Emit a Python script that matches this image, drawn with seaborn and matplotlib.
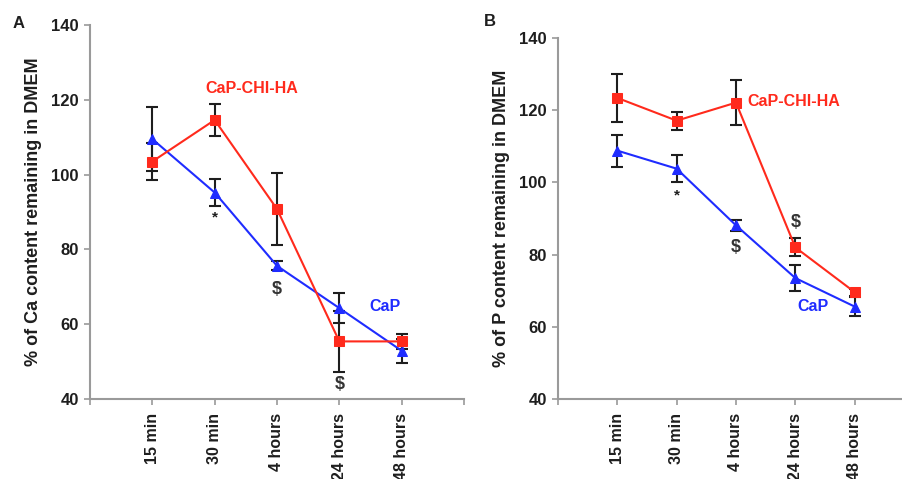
import matplotlib
matplotlib.use('Agg')
import matplotlib.pyplot as plt
import seaborn as sns
import pandas as pd
import numpy as np

'''Data read from the figure'''
times = ['15 min', '30 min', '4 hours', '24 hours', '48 hours']

ca_chi = [103.5, 114.6, 90.8, 55.4, 55.4]
ca_chi_err = [5.0, 4.2, 9.7, 8.1, 2.0]
ca_cap = [109.5, 95.2, 75.6, 64.3, 52.9]
ca_cap_err = [8.5, 3.5, 1.2, 4.0, 3.2]

p_chi = [123.4, 117.1, 122.1, 82.0, 69.6]
p_chi_err = [6.7, 2.5, 6.2, 2.5, 1.0]
p_cap = [108.8, 103.8, 88.1, 73.5, 65.6]
p_cap_err = [4.4, 3.8, 1.5, 3.7, 2.6]

sns.set_theme(style='white')
plt.rcParams['font.family'] = ['Liberation Sans', 'DejaVu Sans']
plt.rcParams['font.weight'] = 'bold'

RED = '#ff2a1c'
BLUE = '#1f2cff'
GREY = '#9a9a9a'
TXT = '#1e1e1e'

fig = plt.figure(figsize=(9.03, 4.79), dpi=100)
ax_a = fig.add_axes([90/903, 80/479, 374/903, 374/479])
ax_b = fig.add_axes([558/903, 80/479, 356/903, 361/479])


def draw_panel(ax, chi, chi_err, cap, cap_err, ylabel):
    df = pd.DataFrame({
        'time': times * 2,
        'value': chi + cap,
        'err': chi_err + cap_err,
        'group': ['CaP-CHI-HA'] * 5 + ['CaP'] * 5,
    })
    df['pos'] = np.tile(np.arange(len(times)), 2)
    for g in ['CaP', 'CaP-CHI-HA']:
        sub = df[df['group'] == g]
        ax.errorbar(sub['pos'], sub['value'], yerr=sub['err'], fmt='none',
                    ecolor=TXT, elinewidth=1.5, capsize=4.5, capthick=1.5, zorder=2)
    sns.lineplot(data=df[df['group'] == 'CaP'], x='pos', y='value', ax=ax,
                 color=BLUE, marker='^', markersize=6.5, markeredgecolor=BLUE,
                 linewidth=1.5, zorder=3)
    sns.lineplot(data=df[df['group'] == 'CaP-CHI-HA'], x='pos', y='value', ax=ax,
                 color=RED, marker='s', markersize=7, markeredgecolor=RED,
                 linewidth=1.5, zorder=4)
    ax.set_xlim(-1, 5)
    ax.set_ylim(40, 140)
    ax.set_xticks(range(-1, 6))
    ax.set_xticklabels([''] + times + [''], rotation=90, fontsize=11.5,
                       fontweight='bold', color=TXT)
    ax.set_yticks(range(40, 141, 20))
    ax.set_yticklabels([str(v) for v in range(40, 141, 20)], fontsize=12,
                       fontweight='bold', color=TXT)
    ax.set_xlabel('')
    ax.set_ylabel(ylabel, fontsize=13, fontweight='bold', color=TXT, labelpad=7)
    sns.despine(ax=ax)
    for s in ['left', 'bottom']:
        ax.spines[s].set_color(GREY)
        ax.spines[s].set_linewidth(1.5)
    ax.tick_params(axis='both', colors=GREY, length=4, width=1.2,
                   direction='out', bottom=True, left=True, pad=4)
    ax.tick_params(axis='x', pad=6)
    for lab in ax.get_xticklabels() + ax.get_yticklabels():
        lab.set_color(TXT)
    ax.grid(False)


draw_panel(ax_a, ca_chi, ca_chi_err, ca_cap, ca_cap_err,
           '% of Ca content remaining in DMEM')
draw_panel(ax_b, p_chi, p_chi_err, p_cap, p_cap_err,
           '% of P content remaining in DMEM')

# annotations, panel A
ax_a.text(1.6, 123, 'CaP-CHI-HA', color=RED, fontsize=11.5, fontweight='bold',
          ha='center', va='center')
ax_a.text(3.73, 64.6, 'CaP', color=BLUE, fontsize=11.5, fontweight='bold',
          ha='center', va='center')
ax_a.text(1, 88.5, '*', color=TXT, fontsize=11, ha='center', va='center')
ax_a.text(2, 69.2, '$', color='#333333', fontsize=13, ha='center', va='center')
ax_a.text(3, 43.8, '$', color='#333333', fontsize=13, ha='center', va='center')

# annotations, panel B
ax_b.text(2.2, 122.3, 'CaP-CHI-HA', color=RED, fontsize=11.5, fontweight='bold',
          ha='left', va='center')
ax_b.text(3.3, 65.6, 'CaP', color=BLUE, fontsize=11.5, fontweight='bold',
          ha='center', va='center')
ax_b.text(1, 96.4, '*', color=TXT, fontsize=11, ha='center', va='center')
ax_b.text(2, 82.1, '$', color='#333333', fontsize=13, ha='center', va='center')
ax_b.text(3, 88.9, '$', color='#333333', fontsize=13, ha='center', va='center')

fig.text(19/903, 1 - 23/479, 'A', fontsize=12, fontweight='bold', color=TXT,
         ha='center', va='center')
fig.text(490/903, 1 - 22/479, 'B', fontsize=12, fontweight='bold', color=TXT,
         ha='center', va='center')

fig.savefig('out.png', dpi=100)
